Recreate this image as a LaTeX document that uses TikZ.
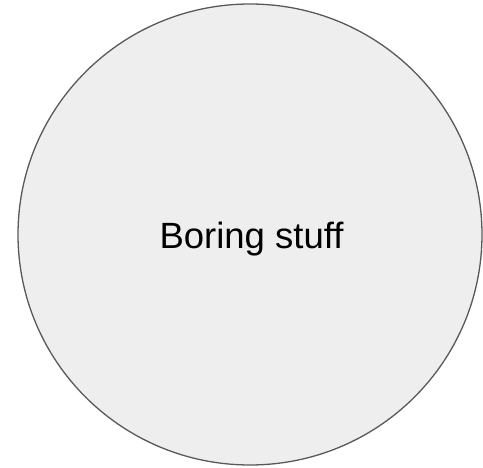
\documentclass[tikz,border=0pt]{standalone}
\usepackage{fontspec}
\setmainfont{Liberation Sans}
\usetikzlibrary{shapes.geometric}
\definecolor{fillgray}{HTML}{EEEEEE}
\definecolor{strokegray}{HTML}{595959}
\begin{document}
\begin{tikzpicture}[x=1pt,y=1pt,
  blob/.style={ellipse,draw=strokegray,fill=fillgray,line width=1.3pt,minimum width=464pt,minimum height=461pt,inner sep=0pt}]
\useasboundingbox (0,0) rectangle (483,467);
\node[blob] (c) at (250,232.5) {};
\node[font=\fontsize{36.5}{40}\selectfont,anchor=base,inner sep=0pt] (t) at (251.5,218.7) {Boring stuff};
\end{tikzpicture}
\end{document}
